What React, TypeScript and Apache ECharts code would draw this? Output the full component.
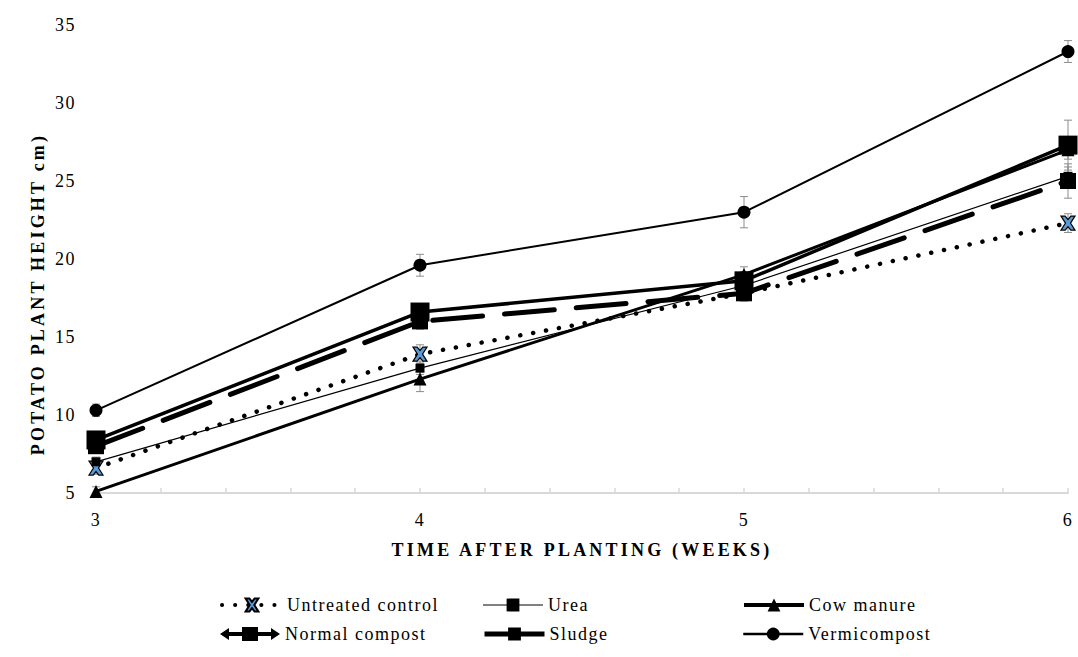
import React, { useEffect, useRef } from "react";
import * as echarts from "echarts";

const weeks = [3, 4, 5, 6];
const untreatedControl = [6.6, 13.9, 17.8, 22.3];
const urea = [7.0, 13.0, 18.3, 25.3];
const cowManure = [5.1, 12.3, 19.0, 27.0];
const normalCompost = [8.0, 16.0, 17.8, 25.0];
const sludge = [8.4, 16.6, 18.6, 27.3];
const vermicompost = [10.3, 19.6, 23.0, 33.3];

const errControl = [0.4, 0.6, 0.4, 0.6];
const errUrea = [0.3, 0.4, 0.4, 0.6];
const errCow = [0.3, 0.8, 0.5, 0.6];
const errNormal = [0.4, 0.5, 0.5, 1.1];
const errSludge = [0.4, 0.5, 0.6, 1.6];
const errVermi = [0.4, 0.7, 1.0, 0.7];

const FONT = "Liberation Serif";
const xMark = "path://M0,0 L3,0 L5,2.5 L7,0 L10,0 L6.8,5 L10,10 L7,10 L5,7.5 L3,10 L0,10 L3.2,5 Z";
const arrowIcon =
  "path://M0,7 L9,1 L9,5 L22,5 L22,0 L38,0 L38,5 L51,5 L51,1 L60,7 L51,13 L51,9 L38,9 L38,14 L22,14 L22,9 L9,9 L9,13 Z";

function pts(vals: number[]) {
  return weeks.map((w, i) => [w, vals[i]]);
}
function errPts(vals: number[], errs: number[]) {
  return weeks.map((w, i) => [w, vals[i], errs[i]]);
}

function errorSeries(vals: number[], errs: number[]) {
  return {
    type: "custom",
    data: errPts(vals, errs),
    z: 1,
    encode: { x: 0, y: 1 },
    renderItem: (params: any, api: any) => {
      const x = api.value(0);
      const y = api.value(1);
      const e = api.value(2);
      const top = api.coord([x, y + e]);
      const bot = api.coord([x, y - e]);
      const w = 4;
      const style = { stroke: "#8c8c8c", lineWidth: 1 };
      return {
        type: "group",
        children: [
          { type: "line", shape: { x1: top[0], y1: top[1], x2: bot[0], y2: bot[1] }, style },
          { type: "line", shape: { x1: top[0] - w, y1: top[1], x2: top[0] + w, y2: top[1] }, style },
          { type: "line", shape: { x1: bot[0] - w, y1: bot[1], x2: bot[0] + w, y2: bot[1] }, style },
        ],
      };
    },
  };
}

export default function App() {
  const ref = useRef<HTMLDivElement>(null);
  useEffect(() => {
    if (!ref.current) return;
    const chart = echarts.init(ref.current, null, { renderer: "svg" });
    const legendText = { fontFamily: FONT, fontSize: 18, color: "#000" };
    const mkLegend = (name: string, left: number, top: number, extra: any = {}) => ({
      left,
      top,
      padding: 0,
      itemWidth: 60,
      itemHeight: 16,
      itemGap: 0,
      textStyle: legendText,
      data: [{ name, ...extra }],
    });
    chart.setOption({
      animation: false,
      backgroundColor: "#fff",
      grid: { left: 96, right: 10, top: 25, bottom: 164 },
      xAxis: {
        type: "value",
        min: 3,
        max: 6,
        interval: 0.2,
        name: "TIME AFTER PLANTING (WEEKS)",
        nameLocation: "middle",
        nameGap: 48,
        nameTextStyle: { fontFamily: FONT, fontSize: 18, fontWeight: "bold", color: "#000" },
        axisLine: { lineStyle: { color: "#d9d9d9", width: 2 } },
        axisTick: { inside: true, length: 5, lineStyle: { color: "#d9d9d9", width: 1.5 } },
        axisLabel: {
          fontFamily: FONT,
          fontSize: 18,
          color: "#000",
          margin: 18,
          formatter: (v: number) => (Math.abs(v - Math.round(v)) < 1e-6 ? String(Math.round(v)) : ""),
        },
        splitLine: { show: false },
      },
      yAxis: {
        type: "value",
        min: 5,
        max: 35,
        interval: 5,
        axisLine: { show: false },
        axisTick: { show: false },
        axisLabel: { fontFamily: FONT, fontSize: 18, color: "#000", margin: 20 },
        splitLine: { show: false },
      },
      graphic: [
        {
          type: "text",
          x: 38,
          y: 294,
          rotation: Math.PI / 2,
          style: {
            text: "POTATO PLANT HEIGHT cm)",
            fontFamily: FONT,
            fontSize: 18,
            fontWeight: "bold",
            fill: "#000",
            align: "center",
            verticalAlign: "middle",
          },
        },
      ],
      legend: [
        mkLegend("Untreated control", 220, 596, { lineStyle: { width: 4 } }),
        mkLegend("Normal compost", 220, 625, { icon: arrowIcon, itemStyle: { color: "#000" } }),
        mkLegend("Urea", 482, 596, { lineStyle: { color: "#808080", width: 2 } }),
        mkLegend("Sludge", 482, 625, { lineStyle: { width: 5 } }),
        mkLegend("Cow manure", 742, 596, { lineStyle: { width: 4 } }),
        mkLegend("Vermicompost", 742, 625, { lineStyle: { width: 2.5 } }),
      ],
      series: [
        errorSeries(untreatedControl, errControl),
        errorSeries(urea, errUrea),
        errorSeries(cowManure, errCow),
        errorSeries(normalCompost, errNormal),
        errorSeries(sludge, errSludge),
        errorSeries(vermicompost, errVermi),
        {
          name: "Untreated control",
          type: "line",
          data: pts(untreatedControl),
          symbol: xMark,
          symbolSize: 14,
          itemStyle: { color: "#5b9bd5", borderColor: "#000", borderWidth: 1.2 },
          lineStyle: { color: "#000", width: 4.5, type: [0.1, 13], cap: "round" },
          z: 3,
        },
        {
          name: "Urea",
          type: "line",
          data: pts(urea),
          symbol: "rect",
          symbolSize: 9,
          itemStyle: { color: "#000" },
          lineStyle: { color: "#000", width: 1.2 },
          z: 3,
        },
        {
          name: "Cow manure",
          type: "line",
          data: pts(cowManure),
          symbol: "triangle",
          symbolSize: 13,
          itemStyle: { color: "#000" },
          lineStyle: { color: "#000", width: 3 },
          z: 3,
        },
        {
          name: "Normal compost",
          type: "line",
          data: pts(normalCompost),
          symbol: "rect",
          symbolSize: 16,
          itemStyle: { color: "#000" },
          lineStyle: { color: "#000", width: 5, type: [50, 22], cap: "round" },
          z: 3,
        },
        {
          name: "Sludge",
          type: "line",
          data: pts(sludge),
          symbol: "rect",
          symbolSize: 19,
          itemStyle: { color: "#000" },
          lineStyle: { color: "#000", width: 3.5 },
          z: 3,
        },
        {
          name: "Vermicompost",
          type: "line",
          data: pts(vermicompost),
          symbol: "circle",
          symbolSize: 13,
          itemStyle: { color: "#000" },
          lineStyle: { color: "#000", width: 2 },
          z: 3,
        },
      ],
    });
    return () => chart.dispose();
  }, []);
  return (
    <>
      <style>{`#root svg text{letter-spacing:1.5px} #root svg text[style*="bold"]{letter-spacing:3.2px}`}</style>
      <div ref={ref} style={{ position: "fixed", left: 0, top: 0, width: 1078, height: 657 }} />
    </>
  );
}
